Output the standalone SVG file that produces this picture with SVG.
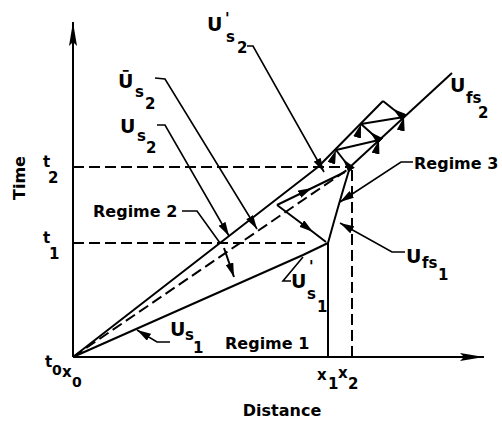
<svg xmlns="http://www.w3.org/2000/svg" width="502" height="426" viewBox="0 0 502 426">
<defs>
<style>
.ln{fill:none;stroke:#000;stroke-width:2;stroke-linejoin:round}
.th{fill:none;stroke:#000;stroke-width:1.6}
.ds{fill:none;stroke:#000;stroke-width:2;stroke-dasharray:11,5}
text{font-family:"DejaVu Sans","Liberation Sans",sans-serif;font-weight:bold;fill:#000}
.lb{font-size:16px}
.U{font-size:19px}
.sb{font-size:15px}
.ax{font-size:15px}
.ax0{font-size:14px}
</style>
<marker id="ah" viewBox="0 0 14 8" refX="14" refY="4" markerWidth="14" markerHeight="8" orient="auto" markerUnits="userSpaceOnUse"><path d="M0,0 L14,4 L0,8 z" fill="#000"/></marker>
<marker id="ax" viewBox="0 0 24 8" refX="24" refY="4" markerWidth="24" markerHeight="8" orient="auto" markerUnits="userSpaceOnUse"><path d="M0,0 L24,4 L0,8 L4,4 z" fill="#000"/></marker>
</defs>
<g id="axes">
<path class="ln" d="M73,357 V22" marker-end="url(#ax)"/>
<path class="ln" d="M73,357 H484" marker-end="url(#ax)"/>
</g>
<g id="connectors">
<path class="ds" d="M73,167 H350"/>
<path class="ds" d="M73,243 H305"/>
<path class="ds" d="M352,357 V170"/>
<path class="ln" d="M73,357 L318,167 L383,101"/>
<path class="ds" d="M73,357 L350,168"/>
<path class="ln" d="M73,357 L303,255 L328,243"/>
<path class="ln" d="M328,357 L328,243 Q339,203 350,167"/>
<path class="ln" d="M350,167 L452,73"/>
<path class="ln" d="M277,205 L312,188 L345,172" marker-mid="url(#ah)"/>
<path class="ln" d="M277,205 L313,232 L326,242" marker-mid="url(#ah)"/>
<path class="ln" d="M224,248 L234,277" marker-end="url(#ah)"/>
<path class="ln" d="M350,168 L343,159 L336,150 L379,140 L370,132 L361,124 L404,117 L393,109 L383,101" marker-mid="url(#ah)"/>
<path class="th" d="M247,46 L253,46 L324,172" marker-end="url(#ah)"/>
<path class="th" d="M155,78 L165,79 L257,229" marker-end="url(#ah)"/>
<path class="th" d="M157,125 L165,125 L229,236" marker-end="url(#ah)"/>
<path class="th" d="M182,211 L197,211 L220,243"/>
<path class="th" d="M413,162 L401,162 L340,202" marker-end="url(#ah)"/>
<path class="th" d="M405,252 L392,252 L340,223" marker-end="url(#ah)"/>
<path class="th" d="M170,342 L157,342 L137,330" marker-end="url(#ah)"/>
<path class="th" d="M291,281 L283,281 L303,257"/>
</g>
<g id="label-time"><text class="lb" transform="translate(25,178) rotate(-90)" text-anchor="middle">Time</text></g>
<g id="label-distance"><text class="lb" x="282" y="416" text-anchor="middle">Distance</text></g>
<g id="label-t2"><text class="ax" x="43" y="167">t</text><text class="ax" x="48" y="183">2</text></g>
<g id="label-t1"><text class="ax" x="43" y="243">t</text><text class="ax" x="49" y="259">1</text></g>
<g id="label-t0x0"><text class="ax" x="45" y="367">t</text><text class="ax0" x="52" y="375">0</text><text class="ax" x="62" y="377">x</text><text class="ax0" x="72" y="387">0</text></g>
<g id="label-x1x2"><text class="ax" x="317" y="380">x</text><text class="ax" x="328" y="389">1</text><text class="ax" x="338" y="378">x</text><text class="ax" x="348" y="389">2</text></g>
<g id="label-Us2prime"><text class="U" x="207" y="31">U</text><text class="sb" x="225" y="24">'</text><text class="sb" x="226" y="42">s</text><text class="sb" x="237" y="53">2</text></g>
<g id="label-Us2bar"><text class="U" x="118" y="88">Ū</text><text class="sb" x="135" y="97">s</text><text class="sb" x="145" y="109">2</text></g>
<g id="label-Us2"><text class="U" x="120" y="133">U</text><text class="sb" x="137" y="141">s</text><text class="sb" x="146" y="153">2</text></g>
<g id="label-Us1"><text class="U" x="170" y="336">U</text><text class="sb" x="185" y="340">s</text><text class="sb" x="193" y="353">1</text></g>
<g id="label-Us1prime"><text class="U" x="291" y="288">U</text><text class="sb" x="309" y="272">'</text><text class="sb" x="307" y="299">s</text><text class="sb" x="317" y="312">1</text></g>
<g id="label-Ufs1"><text class="U" x="406" y="263">U</text><text class="sb" x="422" y="268">fs</text><text class="sb" x="438" y="280">1</text></g>
<g id="label-Ufs2"><text class="U" x="450" y="92">U</text><text class="sb" x="466" y="103">fs</text><text class="sb" x="478" y="118">2</text></g>
<g id="label-regime1"><text class="lb" x="225" y="349">Regime 1</text></g>
<g id="label-regime2"><text class="lb" x="93" y="217">Regime 2</text></g>
<g id="label-regime3"><text class="lb" x="414" y="169">Regime 3</text></g>
</svg>
